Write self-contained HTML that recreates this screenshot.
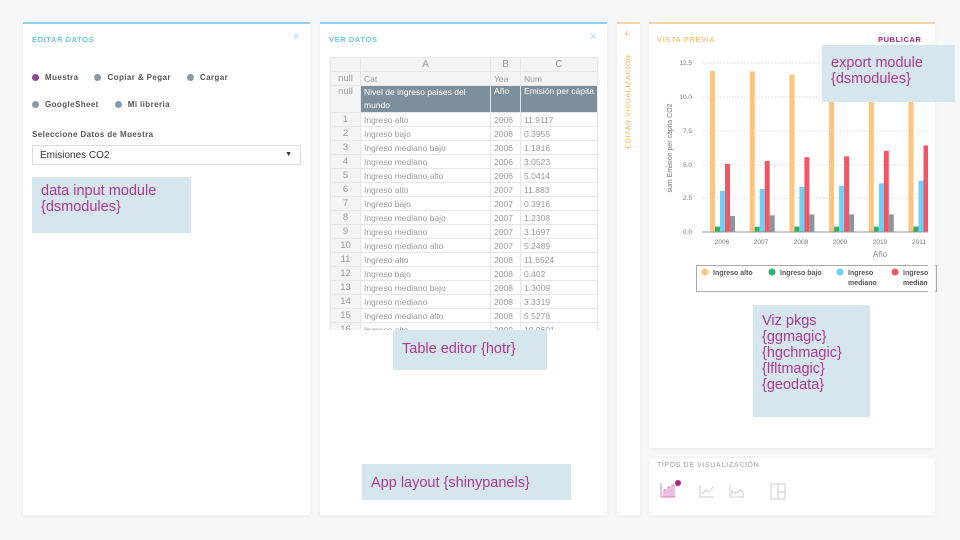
<!DOCTYPE html>
<html><head><meta charset="utf-8"><style>
*{margin:0;padding:0;box-sizing:border-box}
body{width:960px;height:540px;background:#f6f7f9;position:relative;overflow:hidden;font-family:"Liberation Sans","DejaVu Sans",sans-serif}
.p{position:absolute;background:#fff;box-shadow:0 1px 4px rgba(0,0,0,.06)}
.t{position:absolute;font-size:7.5px;font-weight:bold;letter-spacing:.6px}
.ann{position:absolute;background:#d6e6ee;color:#b03a8a;font-size:14.5px;line-height:16px;padding:6px 9px;font-weight:300}
.r{position:absolute;font-size:8px;font-weight:bold;color:#555;letter-spacing:.4px}
.dot{display:inline-block;width:7px;height:7px;border-radius:50%;background:#8a9aa4;margin-right:6px;vertical-align:-1px}
table{position:absolute;left:330px;top:57px;border-collapse:collapse;font-size:8.5px;color:#999;table-layout:fixed}
td{border:1px solid #e4e6e8;height:14px;padding:0 3px;white-space:nowrap;overflow:hidden}
td:first-child{text-align:center;background:#f3f4f5;color:#999;font-size:9.5px}
</style></head><body>
<div class="p" style="left:23px;top:22px;width:287px;height:493px;border-top:2px solid #8cd3f0"></div>
<div class="t" style="left:32px;top:35px;color:#6cc4ea">EDITAR DATOS</div>
<div style="position:absolute;left:293px;top:31px;color:#9ad6f0;font-size:11px">×</div>
<div class="r" style="left:32px;top:73px"><span class="dot" style="background:#8e4a8e"></span>Muestra<span style="margin-left:16px" class="dot"></span>Copiar &amp; Pegar<span style="margin-left:16px" class="dot"></span>Cargar</div>
<div class="r" style="left:32px;top:100px"><span class="dot"></span>GoogleSheet<span style="margin-left:16px" class="dot"></span>Mi libreria</div>
<div class="r" style="left:32px;top:130px">Seleccione Datos de Muestra</div>
<div style="position:absolute;left:32px;top:145px;width:269px;height:20px;border:1px solid #ddd;font-size:10px;color:#333;padding:4px 7px">Emisiones CO2<span style="position:absolute;right:8px;top:5px;font-size:7px">▼</span></div>
<div class="ann" style="left:32px;top:177px;width:159px;height:56px">data input module<br>{dsmodules}</div>

<div class="p" style="left:320px;top:22px;width:287px;height:493px;border-top:2px solid #8cd3f0"></div>
<div class="t" style="left:329px;top:35px;color:#6cc4ea">VER DATOS</div>
<div style="position:absolute;left:590px;top:31px;color:#9ad6f0;font-size:11px">×</div>
<div style="position:absolute;left:330px;top:57px;width:268px;height:273px;overflow:hidden">
<table style="left:0;top:0">
<colgroup><col style="width:32px"><col style="width:140px"><col style="width:31px"><col style="width:65px"></colgroup>
<tr style="background:#f3f4f5"><td></td><td style="text-align:center;font-size:10px">A</td><td style="text-align:center;font-size:10px">B</td><td style="text-align:center;font-size:10px">C</td></tr>
<tr style="background:#f3f4f5"><td>null</td><td>Cat</td><td>Yea</td><td>Num</td></tr>
<tr style="background:#7d8f9b;color:#fff"><td style="vertical-align:top">null</td><td style="height:27px;white-space:normal;line-height:13px">Nivel de ingreso paises del mundo</td><td style="vertical-align:top">Año</td><td style="vertical-align:top">Emisión per cápita</td></tr>
<tr><td>1</td><td>Ingreso alto</td><td>2006</td><td>11.9117</td></tr>
<tr><td>2</td><td>Ingreso bajo</td><td>2006</td><td>0.3955</td></tr>
<tr><td>3</td><td>Ingreso mediano bajo</td><td>2006</td><td>1.1816</td></tr>
<tr><td>4</td><td>Ingreso mediano</td><td>2006</td><td>3.0523</td></tr>
<tr><td>5</td><td>Ingreso mediano alto</td><td>2006</td><td>5.0414</td></tr>
<tr><td>6</td><td>Ingreso alto</td><td>2007</td><td>11.883</td></tr>
<tr><td>7</td><td>Ingreso bajo</td><td>2007</td><td>0.3916</td></tr>
<tr><td>8</td><td>Ingreso mediano bajo</td><td>2007</td><td>1.2308</td></tr>
<tr><td>9</td><td>Ingreso mediano</td><td>2007</td><td>3.1697</td></tr>
<tr><td>10</td><td>Ingreso mediano alto</td><td>2007</td><td>5.2489</td></tr>
<tr><td>11</td><td>Ingreso alto</td><td>2008</td><td>11.6524</td></tr>
<tr><td>12</td><td>Ingreso bajo</td><td>2008</td><td>0.402</td></tr>
<tr><td>13</td><td>Ingreso mediano bajo</td><td>2008</td><td>1.3009</td></tr>
<tr><td>14</td><td>Ingreso mediano</td><td>2008</td><td>3.3319</td></tr>
<tr><td>15</td><td>Ingreso mediano alto</td><td>2008</td><td>5.5278</td></tr>
<tr><td>16</td><td>Ingreso alto</td><td>2009</td><td>10.9601</td></tr>
</table></div>
<div class="ann" style="left:393px;top:330px;width:154px;height:40px;padding-top:11px">Table editor {hotr}</div>
<div class="ann" style="left:362px;top:464px;width:209px;height:36px;padding-top:11px">App layout {shinypanels}</div>

<div class="p" style="left:617px;top:22px;width:23px;height:493px;border-top:2px solid #fcd9a0"></div>
<div style="position:absolute;left:623px;top:26px;color:#f9c77e;font-size:13px">+</div>
<div class="t" style="left:574px;top:98px;width:110px;color:#f9c77e;transform:rotate(-90deg);text-align:center;font-size:7px">EDITAR VISUALIZACIÓN</div>

<div class="p" style="left:649px;top:22px;width:286px;height:426px;border-top:2px solid #fcd9a0"></div>
<div class="t" style="left:657px;top:35px;color:#f9c77e">VISTA PREVIA</div>
<div class="t" style="left:878px;top:35px;color:#a3287e">PUBLICAR</div>
<svg style="position:absolute;left:0;top:0" width="960" height="540">
<g stroke="#ccc" stroke-dasharray="1.5,1.5" stroke-width=".8">
<line x1="702" x2="928" y1="63" y2="63"/><line x1="702" x2="928" y1="97" y2="97"/><line x1="702" x2="928" y1="131" y2="131"/><line x1="702" x2="928" y1="165" y2="165"/><line x1="702" x2="928" y1="198" y2="198"/></g>
<g font-size="6.5" fill="#777" text-anchor="end"><text x="692" y="65">12.5</text><text x="692" y="99">10.0</text><text x="692" y="133">7.5</text><text x="692" y="167">5.0</text><text x="692" y="200">2.5</text><text x="692" y="234">0.0</text></g>
<text transform="translate(672,148) rotate(-90)" font-size="7" fill="#777" text-anchor="middle">sum Emisión per cápita CO2</text>
<g id="bars"></g>
<line x1="702" x2="928" y1="232" y2="232" stroke="#999" stroke-width="1"/>
<g font-size="6.5" fill="#777" text-anchor="middle"><text x="722" y="244">2006</text><text x="761" y="244">2007</text><text x="801" y="244">2008</text><text x="840" y="244">2009</text><text x="880" y="244">2010</text><text x="919" y="244">2011</text></g>
<text x="880" y="257" font-size="8" fill="#888" text-anchor="middle">Año</text>
<rect x="696.5" y="265.5" width="240" height="26" fill="none" stroke="#aaa"/>
<g font-size="7" font-weight="bold" fill="#555"><circle cx="705" cy="272" r="3.5" fill="#fdc57f"/><text x="713" y="275">Ingreso alto</text>
<circle cx="772" cy="272" r="3.5" fill="#2bb36a"/><text x="780" y="275">Ingreso bajo</text>
<circle cx="840" cy="272" r="3.5" fill="#6fd0f7"/><text x="848" y="275">Ingreso</text><text x="848" y="285">mediano</text>
<circle cx="895" cy="272" r="3.5" fill="#f25565"/><text x="903" y="275">Ingreso</text><text x="903" y="285">mediano</text></g>
<rect x="928" y="262" width="7" height="32" fill="#fff"/>
</svg>
<div class="ann" style="left:822px;top:45px;width:133px;height:57px;padding-top:10px">export module<br>{dsmodules}</div>
<div class="ann" style="left:753px;top:305px;width:117px;height:112px;padding-top:8px">Viz pkgs<br>{ggmagic}<br>{hgchmagic}<br>{lfltmagic}<br>{geodata}</div>

<div class="p" style="left:649px;top:458px;width:286px;height:57px"></div>
<div class="t" style="left:657px;top:462px;color:#bbb;font-size:7px">TIPOS DE VISUALIZACIÓN</div>
<svg style="position:absolute;left:655px;top:478px" width="140" height="24">
<g stroke="#d77fc0" fill="none" stroke-width="1"><path d="M6 5v14h14"/><rect x="9" y="12" width="2" height="7"/><rect x="13" y="9" width="2" height="10"/><rect x="17" y="7" width="2" height="12"/></g>
<circle cx="23" cy="5" r="3" fill="#a3287e"/>
<g stroke="#ccc" fill="none" stroke-width="1"><path d="M45 7v12h14M47 16l4-4 3 2 4-5"/><path d="M75 7v12h14M77 17v-4l4 2 4-3 3 2v5"/><rect x="116" y="6" width="14" height="15"/><path d="M123 6v15M123 14h7"/></g>
</svg>
<script>
var y0=232,s=13.52,c=["#fdc57f","#2bb36a","#6fd0f7","#f25565","#8a959c"];
var d=[[11.91,.4,3.05,5.04,1.18],[11.88,.39,3.17,5.25,1.23],[11.65,.4,3.33,5.53,1.3],[10.96,.4,3.4,5.6,1.3],[10.8,.4,3.6,6.0,1.3],[10.9,.4,3.8,6.4,1.3]];
var h="";d.forEach(function(g,i){g.forEach(function(v,j){var x=710+i*39.7+j*5;if(x+5>929)return;var w=Math.min(5,928-x);h+='<rect x="'+x+'" y="'+(y0-v*s)+'" width="'+w+'" height="'+v*s+'" fill="'+c[j]+'"/>';});});
document.getElementById("bars").innerHTML=h;
</script>
</body></html>
